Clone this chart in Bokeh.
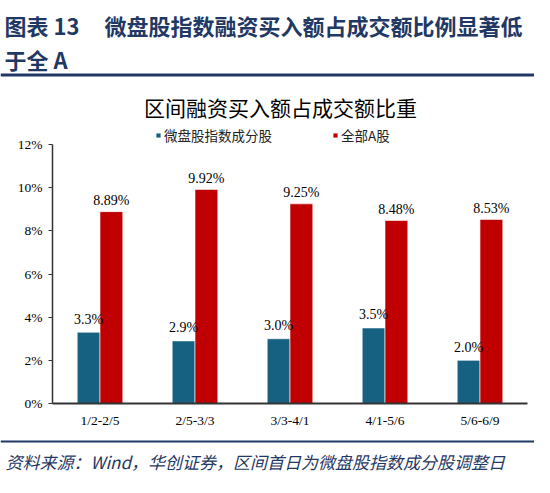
from bokeh.plotting import figure
from bokeh.models import (ColumnDataSource, Label, Span, Legend, LegendItem,
                          FixedTicker, CustomJSTickFormatter, Range1d)
from bokeh.core.properties import value
from bokeh.transform import dodge
from bokeh.embed import file_html
from bokeh.resources import INLINE

# ---- data ----
categories = ["1/2-2/5", "2/5-3/3", "3/3-4/1", "4/1-5/6", "5/6-6/9"]
micro_cap = [3.3, 2.9, 3.0, 3.5, 2.0]          # 微盘股指数成分股 (%)
all_a = [8.89, 9.92, 9.25, 8.48, 8.53]          # 全部A股 (%)
y_ticks = [0, 2, 4, 6, 8, 10, 12]
series_names = ["微盘股指数成分股", "全部A股"]

header_1a = "图表 13"
header_1b = "微盘股指数融资买入额占成交额比例显著低"
header_2 = "于全 A"
chart_title = "区间融资买入额占成交额比重"
footer = "资料来源：Wind，华创证券，区间首日为微盘股指数成分股调整日"

# ---- style / layout ----
BLUE = "#166082"
RED = "#C00000"
NAVY = "#1F3864"
CJK = "Noto Sans CJK SC"
SERIF = "Liberation Serif"
W, H = 534, 477
AX_LEFT_PX, CAT_PX = 52, 95          # y-axis position and category width in pixels
ZERO_PX, PX_PER_PCT = 403, 21.583    # pixel row of 0% and pixels per 1%

x0 = -(AX_LEFT_PX + CAT_PX / 2) / CAT_PX
x_range = Range1d(x0, x0 + W / CAT_PX)
y_range = Range1d(-(H - ZERO_PX) / PX_PER_PCT, ZERO_PX / PX_PER_PCT)

idx = list(range(len(categories)))
src = ColumnDataSource(dict(
    xi=idx,
    micro=micro_cap,
    alla=all_a,
    micro_lbl=[f"{v:.1f}%" for v in micro_cap],
    alla_lbl=[f"{v:.2f}%" for v in all_a],
))

p = figure(width=W, height=H, x_range=x_range, y_range=y_range,
           output_backend="svg", toolbar_location=None, title=None,
           min_border=0, min_border_left=0, min_border_right=0,
           min_border_top=0, min_border_bottom=0)
p.outline_line_color = None
p.xgrid.visible = False
p.ygrid.visible = False

r1 = p.vbar(x=dodge("xi", -0.12), top="micro", width=0.24, source=src,
            fill_color=BLUE, line_color="white", line_width=0.6)
r2 = p.vbar(x=dodge("xi", 0.12), top="alla", width=0.24, source=src,
            fill_color=RED, line_color="white", line_width=0.6)

for xo, col, lbl, off in ((-0.12, "micro", "micro_lbl", -13), (0.12, "alla", "alla_lbl", -11)):
    p.text(x=dodge("xi", xo), y=col, text=lbl, source=src,
           text_align="center", text_baseline="alphabetic", y_offset=off,
           text_font=value(SERIF), text_font_size="14px", text_color="black")

# axes drawn at fixed locations inside the full-canvas frame
p.yaxis.fixed_location = -0.5
p.yaxis.bounds = (0, 12)
p.yaxis.ticker = FixedTicker(ticks=y_ticks)
p.yaxis.formatter = CustomJSTickFormatter(code="return tick + '%'")
p.yaxis.major_tick_out = 4
p.yaxis.major_tick_in = 0
p.yaxis.minor_tick_line_color = None
p.yaxis.axis_line_color = "#333333"
p.yaxis.major_tick_line_color = "#333333"
p.yaxis.axis_line_width = 1.5
p.yaxis.major_label_text_font = SERIF
p.yaxis.major_label_text_font_size = "13.5px"
p.yaxis.major_label_text_color = "black"
p.yaxis.major_label_standoff = 6

p.xaxis.fixed_location = 0
p.xaxis.bounds = (-0.5, len(categories) - 0.5)
p.xaxis.ticker = FixedTicker(ticks=idx)
p.xaxis.major_label_overrides = {i: c for i, c in zip(idx, categories)}
p.xaxis.major_tick_line_color = None
p.xaxis.major_tick_out = 0
p.xaxis.major_tick_in = 0
p.xaxis.minor_tick_line_color = None
p.xaxis.axis_line_color = "#333333"
p.xaxis.axis_line_width = 2
p.xaxis.major_label_text_font = SERIF
p.xaxis.major_label_text_font_size = "13.5px"
p.xaxis.major_label_text_color = "black"
p.xaxis.major_label_standoff = 9

legend = Legend(items=[LegendItem(label=series_names[0], renderers=[r1]),
                       LegendItem(label=series_names[1], renderers=[r2])],
                orientation="horizontal", location=(155, H - 145),
                glyph_width=6, glyph_height=6, label_standoff=3, spacing=60,
                padding=0, margin=0, border_line_color=None, background_fill_alpha=0,
                label_text_font=CJK, label_text_font_size="13.5px", label_height=14,
                label_text_color="#222222")
p.add_layout(legend)


def lab(text, x, y, size, style="normal", color="black", align="left"):
    # x, y are pixel positions from the canvas top-left
    p.add_layout(Label(x=x, y=H - y, x_units="screen", y_units="screen", text=text,
                       text_font=CJK, text_font_size=size, text_font_style=style,
                       text_color=color, text_align=align, text_baseline="middle"))


lab(header_1a, 4, 24, "22px", "bold", NAVY)
lab(header_1b, 104, 24, "22px", "bold", NAVY)
lab(header_2, 4, 58, "22px", "bold", NAVY)
lab(chart_title, 280, 106, "21px", "normal", "black", "center")
lab(footer, 5, 461, "17px", "italic", NAVY)

p.add_layout(Span(location=(ZERO_PX - 74.5) / PX_PER_PCT, dimension="width",
                  line_color=NAVY, line_width=3))
p.add_layout(Span(location=(ZERO_PX - 441) / PX_PER_PCT, dimension="width",
                  line_color=NAVY, line_width=2))

open("out.html", "w").write(file_html(p, INLINE))
